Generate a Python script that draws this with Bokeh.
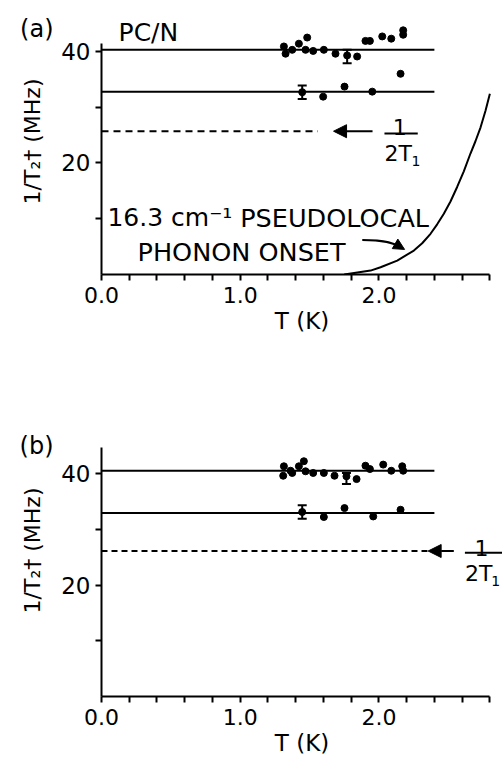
from bokeh.plotting import figure
from bokeh.models import (Range1d, FixedTicker, PrintfTickFormatter, Whisker, LinearAxis,
                          ColumnDataSource, Arrow, NormalHead, TeeHead)
from bokeh.layouts import column
from bokeh.embed import file_html
from bokeh.resources import INLINE
from bokeh.core.properties import value

FONT = "DejaVu Sans"

# ---------------- axes ----------------
x_major = [0, 1, 2]
x_minor = [0.2, 0.4, 0.6, 0.8, 1.2, 1.4, 1.6, 1.8, 2.2, 2.4, 2.6, 2.8]
y_major = [20, 40]
y_minor = [10, 30]
x_label = "T (K)"
y_label = "1/T\u2082\u2020 (MHz)"

# ---------------- panel (a) data ----------------
a_up_T = [1.315, 1.327, 1.375, 1.423, 1.483, 1.471, 1.526, 1.603, 1.687, 1.771, 1.843,
          1.903, 1.935, 2.024, 2.089, 2.175, 2.175]
a_up_v = [40.9, 39.6, 40.3, 41.4, 42.5, 40.3, 40.1, 40.3, 39.6, 39.3, 39.1,
          41.9, 41.9, 42.7, 42.3, 43.8, 43.0]
a_lo_T = [1.447, 1.598, 1.752, 1.952, 2.156]
a_lo_v = [32.7, 31.9, 33.7, 32.8, 36.0]
a_err_T = [1.771, 1.447]
a_err_lo = [37.9, 31.5]
a_err_hi = [40.3, 33.9]
a_fit_up = 40.3
a_fit_lo = 32.8
a_half_T1 = 25.7
a_dash_end = 1.56
fit_end = 2.4
curve_T = [1.75, 1.94, 2.012, 2.132, 2.252, 2.312, 2.372, 2.42, 2.468, 2.516, 2.564,
           2.612, 2.66, 2.696, 2.733, 2.769, 2.80]
curve_v = [0.0, 0.7, 1.3, 2.5, 4.3, 5.6, 7.3, 9.0, 10.9, 13.1, 15.7,
           18.5, 21.7, 23.9, 26.4, 29.4, 32.4]

# ---------------- panel (b) data ----------------
b_up_T = [1.315, 1.310, 1.363, 1.375, 1.423, 1.459, 1.471, 1.526, 1.603, 1.680, 1.766,
          1.839, 1.903, 1.935, 2.031, 2.089, 2.168, 2.175]
b_up_v = [41.3, 39.6, 40.5, 40.1, 41.3, 42.2, 40.4, 40.1, 40.1, 39.6, 39.5,
          39.0, 41.4, 40.8, 41.6, 40.5, 41.3, 40.5]
b_lo_T = [1.447, 1.603, 1.752, 1.959, 2.156]
b_lo_v = [33.1, 32.2, 33.8, 32.3, 33.5]
b_err_T = [1.766, 1.447]
b_err_lo = [38.1, 31.9]
b_err_hi = [40.1, 34.3]
b_fit_up = 40.5
b_fit_lo = 32.9
b_half_T1 = 26.1
b_dash_end = 2.355

W = 502
X_END = 2.891


def make_panel(height, y_end, b_top, b_bottom, y_bound, tag, tag_y):
    p = figure(width=W, height=height, x_range=Range1d(0, X_END), y_range=Range1d(0, y_end),
               output_backend="svg", toolbar_location=None,
               min_border_left=101, min_border_right=0,
               min_border_top=b_top, min_border_bottom=b_bottom)
    p.outline_line_color = None
    p.grid.visible = False
    p.background_fill_color = "white"
    p.border_fill_color = "white"
    for ax in (p.xaxis[0], p.yaxis[0]):
        ax.axis_line_width = 2
        ax.axis_line_color = "black"
        ax.major_tick_line_width = 2
        ax.minor_tick_line_width = 2
        ax.major_tick_out = 6
        ax.major_tick_in = 0
        ax.minor_tick_out = 6
        ax.minor_tick_in = 0
        ax.major_label_text_font = FONT
        ax.major_label_text_color = "black"
        ax.axis_label_text_font = FONT
        ax.axis_label_text_font_style = "normal"
        ax.axis_label_text_color = "black"
    p.xaxis.ticker = FixedTicker(ticks=x_major, minor_ticks=x_minor)
    p.xaxis.formatter = PrintfTickFormatter(format="%.1f")
    p.xaxis.bounds = (0, 2.8)
    p.xaxis.axis_label = x_label
    p.xaxis.major_label_text_font_size = "22px"
    p.xaxis.axis_label_text_font_size = "23px"
    p.xaxis.major_label_standoff = 6
    p.xaxis.axis_label_standoff = 2
    p.yaxis.ticker = FixedTicker(ticks=y_major, minor_ticks=y_minor)
    p.yaxis.bounds = (0, y_bound)
    p.yaxis.axis_label = y_label
    p.yaxis.major_label_text_font_size = "23px"
    p.yaxis.axis_label_text_font_size = "22px"
    p.yaxis.major_label_standoff = 5
    p.yaxis.axis_label_standoff = 13
    # panel tag "(a)"/"(b)" drawn as the single label of an outer, line-less axis
    tag_axis = LinearAxis(ticker=FixedTicker(ticks=[tag_y], minor_ticks=[]),
                          major_label_overrides={tag_y: tag},
                          axis_line_color=None, major_tick_line_color=None,
                          minor_tick_line_color=None, major_tick_out=0, major_tick_in=0,
                          major_label_standoff=-36,
                          major_label_text_font=FONT, major_label_text_font_size="24px",
                          major_label_text_color="black")
    p.add_layout(tag_axis, "left")
    return p


def add_data(p, up_T, up_v, lo_T, lo_v, err_T, err_lo, err_hi, fit_up, fit_lo):
    p.line([0, fit_end], [fit_up, fit_up], line_color="black", line_width=2)
    p.line([0, fit_end], [fit_lo, fit_lo], line_color="black", line_width=2)
    p.scatter(up_T, up_v, size=7, color="black")
    p.scatter(lo_T, lo_v, size=7, color="black")
    src = ColumnDataSource(dict(base=err_T, lower=err_lo, upper=err_hi))
    p.add_layout(Whisker(source=src, base="base", lower="lower", upper="upper",
                         line_width=2, line_color="black",
                         upper_head=TeeHead(size=9, line_width=2),
                         lower_head=TeeHead(size=9, line_width=2)))


# ================= panel (a) =================
pa = make_panel(380, 47.71, 8, 106, 41.5, "(a)", 44)
add_data(pa, a_up_T, a_up_v, a_lo_T, a_lo_v, a_err_T, a_err_lo, a_err_hi, a_fit_up, a_fit_lo)
pa.line([0, a_dash_end], [a_half_T1, a_half_T1], line_color="black", line_width=2, line_dash="7 5")
pa.line(curve_T, curve_v, line_color="black", line_width=2)
pa.add_layout(Arrow(end=NormalHead(size=13, fill_color="black", line_color="black"),
                    x_start=1.954, y_start=a_half_T1, x_end=1.673, y_end=a_half_T1,
                    line_width=2, line_color="black"))
# fraction 1/(2T1)
pa.text(x=[2.15], y=[26.4], text=["1"], text_font=value(FONT), text_font_size=value("22px"),
        text_align="center", text_baseline="alphabetic")
pa.segment(x0=[2.04], y0=[25.3], x1=[2.28], y1=[25.3], line_color="black", line_width=2)
pa.text(x=[2.04], y=[21.7], text=["2T"], text_font=value(FONT), text_font_size=value("22px"),
        text_align="left", text_baseline="alphabetic")
pa.text(x=[2.235], y=[20.3], text=["1"], text_font=value(FONT), text_font_size=value("14px"),
        text_align="left", text_baseline="alphabetic")
# annotation text
pa.text(x=[0.043], y=[10.2], text=["16.3 cm\u207b\u00b9"], text_font=value(FONT),
        text_font_size=value("25px"), text_align="left", text_baseline="alphabetic")
pa.text(x=[1.0], y=[10.2], text=["PSEUDOLOCAL"], text_font=value(FONT),
        text_font_size=value("25.5px"), text_align="left", text_baseline="alphabetic")
pa.text(x=[0.26], y=[3.95], text=["PHONON  ONSET"], text_font=value(FONT),
        text_font_size=value("25.5px"), text_align="left", text_baseline="alphabetic")
pa.text(x=[0.123], y=[43.4], text=["PC/N"], text_font=value(FONT),
        text_font_size=value("25px"), text_align="left", text_baseline="alphabetic")
pa.bezier(x0=[1.88], y0=[6.2], x1=[2.17], y1=[4.7], cx0=[2.05], cy0=[6.2],
          cx1=[2.12], cy1=[5.6], line_color="black", line_width=2)
pa.add_layout(Arrow(end=NormalHead(size=11, fill_color="black", line_color="black"),
                    x_start=2.13, y_start=5.3, x_end=2.185, y_end=4.5,
                    line_width=2, line_color="black"))

# ================= panel (b) =================
pb = make_panel(382, 52.38, 24, 66, 44.7, "(b)", 45)
add_data(pb, b_up_T, b_up_v, b_lo_T, b_lo_v, b_err_T, b_err_lo, b_err_hi, b_fit_up, b_fit_lo)
pb.line([0, b_dash_end], [b_half_T1, b_half_T1], line_color="black", line_width=2, line_dash="6 4")
pb.add_layout(Arrow(end=NormalHead(size=13, fill_color="black", line_color="black"),
                    x_start=2.54, y_start=b_half_T1, x_end=2.355, y_end=b_half_T1,
                    line_width=2, line_color="black"))
pb.text(x=[2.74], y=[26.7], text=["1"], text_font=value(FONT), text_font_size=value("22px"),
        text_align="center", text_baseline="alphabetic")
pb.segment(x0=[2.62], y0=[25.8], x1=[2.89], y1=[25.8], line_color="black", line_width=2)
pb.text(x=[2.62], y=[22.0], text=["2T"], text_font=value(FONT), text_font_size=value("22px"),
        text_align="left", text_baseline="alphabetic")
pb.text(x=[2.81], y=[20.7], text=["1"], text_font=value(FONT), text_font_size=value("14px"),
        text_align="left", text_baseline="alphabetic")

layout = column(pa, pb)
open("out.html", "w").write(file_html(layout, INLINE))
